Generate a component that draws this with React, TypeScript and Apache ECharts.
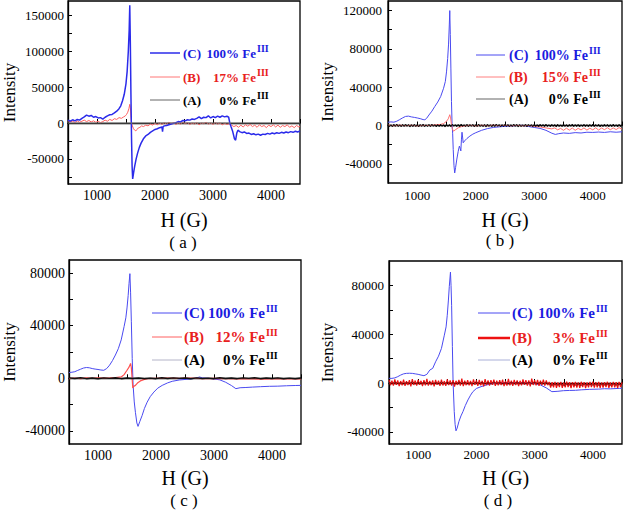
import React, { useEffect, useRef } from 'react';
import * as echarts from 'echarts';

const SERIF = 'Liberation Serif';

// ---------- Panel (a) ----------
const aBlue: number[][] = [
  [500, 4000], [540, 2500], [580, 4500], [620, 3000], [660, 5000], [700, 4000], [740, 6500], [780, 8500],
  [820, 11000], [860, 9500], [900, 10500], [940, 8000], [980, 9000], [1020, 7000], [1060, 7500], [1100, 5500],
  [1140, 8000], [1180, 10000], [1220, 11500], [1260, 12000], [1300, 14000], [1340, 16500], [1380, 20000],
  [1410, 24000], [1440, 31000], [1470, 40000], [1500, 55000], [1520, 72000], [1540, 100000], [1555, 130000],
  [1565, 164000], [1575, 110000], [1585, 40000], [1595, -20000], [1605, -60000], [1615, -78000], [1630, -70000],
  [1650, -60000], [1675, -50000], [1700, -42000], [1730, -34000], [1760, -28000], [1800, -22000], [1840, -18000],
  [1880, -16000], [1920, -13000], [1960, -11000], [2000, -9000], [2040, -8000], [2080, -6500], [2120, -5500],
  [2130, -12000], [2140, -5000], [2160, -4000], [2200, -3500], [2240, -2500], [2280, -1500], [2320, -500],
  [2360, 500], [2400, 2000], [2440, 1500], [2480, 3500], [2520, 3000], [2560, 4500], [2600, 4000], [2640, 5500],
  [2680, 5000], [2720, 6500], [2760, 8500], [2800, 6000], [2840, 8000], [2880, 7500], [2920, 10000], [2960, 7000],
  [3000, 9000], [3040, 7500], [3080, 9500], [3120, 8000], [3160, 10000], [3200, 8500], [3240, 9500], [3270, 8000],
  [3290, 0], [3310, -5000], [3340, -12000], [3370, -22000], [3390, -24000], [3410, -14000], [3430, -10000],
  [3460, -12000], [3500, -13500], [3540, -12500], [3580, -14500], [3620, -14000], [3660, -16000], [3700, -15000],
  [3740, -16500], [3780, -15500], [3820, -17000], [3860, -15500], [3900, -16000], [3940, -14500], [3980, -15500],
  [4020, -14000], [4060, -15000], [4100, -13500], [4140, -14500], [4180, -13000], [4220, -14000], [4260, -12500],
  [4300, -13500], [4340, -12000], [4380, -13000], [4420, -11500], [4460, -12500], [4500, -11000],
];
const aRed: number[][] = [
  [500, 3000], [540, 1500], [580, 2500], [620, 500], [660, 3000], [700, 1000], [740, 2500], [780, 4000],
  [820, 2000], [860, 3500], [900, 1500], [940, 3000], [980, 1000], [1020, 2500], [1060, 500], [1100, 2000],
  [1140, 4000], [1180, 2500], [1220, 5000], [1260, 3500], [1300, 6000], [1340, 5000], [1380, 7500], [1420, 6500],
  [1460, 8500], [1490, 10000], [1510, 12000], [1530, 15000], [1550, 20000], [1565, 26000], [1575, 22000],
  [1585, 8000], [1595, 0], [1610, -4000], [1630, -8000], [1650, -10000], [1670, -11000], [1690, -9000],
  [1710, -7000], [1740, -6000], [1770, -4000], [1800, -5000], [1840, -3000], [1880, -4000], [1920, -1500],
  [1960, -3000], [2000, -500], [2040, -2500], [2080, 0], [2120, -2000], [2160, 500], [2200, -1500], [2240, 1000],
  [2280, -1000], [2320, 500], [2360, -2000], [2400, 0], [2440, -1500], [2480, 1000], [2520, -1000], [2560, 500],
  [2600, -2000], [2640, 0], [2680, -1500], [2720, 500], [2760, -2500], [2800, 0], [2840, -1000], [2880, 1000],
  [2920, -1500], [2960, 0], [3000, -2000], [3040, 500], [3080, -1500], [3120, 0], [3160, -2500], [3200, -500],
  [3240, -2000], [3280, -1000], [3320, -3000], [3360, -5000], [3400, -3500], [3440, -6000], [3480, -3000],
  [3520, -5500], [3560, -2500], [3600, -4500], [3640, -2000], [3680, -5000], [3720, -3000], [3760, -6000],
  [3800, -2500], [3840, -5000], [3880, -3500], [3920, -6500], [3960, -3000], [4000, -5000], [4040, -2500],
  [4080, -5500], [4120, -3000], [4160, -6000], [4200, -3500], [4240, -5000], [4280, -2500], [4320, -6000],
  [4360, -4000], [4400, -6500], [4440, -3500], [4480, -5500], [4500, -4500],
];
const aBlack: number[][] = [[500, 0], [1500, 0], [2500, 0], [3500, 0], [4500, 0]];

// ---------- Panel (b) ----------
const bBlue: number[][] = [
  [500, 3400], [550, 3800], [600, 3500], [650, 4500], [700, 6200], [750, 8000], [800, 9500], [850, 9800],
  [900, 9000], [950, 8500], [1000, 7900], [1050, 7200], [1100, 6200], [1130, 6000], [1160, 7500], [1200, 11000],
  [1250, 15000], [1300, 19900], [1350, 24500], [1400, 30200], [1450, 38900], [1480, 46000], [1500, 56000],
  [1520, 70000], [1535, 85000], [1548, 105000], [1556, 120000], [1565, 95000], [1575, 60000], [1585, 25000],
  [1595, 2000], [1605, -8000], [1615, -25000], [1628, -42000], [1640, -49500], [1655, -44000], [1677, -35000],
  [1700, -27000], [1720, -21500], [1735, -24000], [1745, -26500], [1755, -15000], [1765, -7000], [1775, -12000],
  [1785, -18000], [1810, -16000], [1850, -13500], [1900, -11000], [1950, -9000], [2000, -7500], [2100, -5000],
  [2200, -3200], [2300, -2000], [2400, -1400], [2500, -800], [2600, -500], [2700, 0], [2800, 200], [2900, -1000],
  [3000, -2000], [3100, -3000], [3200, -5000], [3300, -8000], [3360, -9300], [3420, -8500], [3500, -7800],
  [3600, -8200], [3700, -7400], [3800, -7800], [3900, -7000], [4000, -7200], [4100, -6800], [4200, -7200],
  [4300, -6500], [4400, -7000], [4500, -6500],
];
const bRed: number[][] = [
  [500, 500], [600, -300], [700, 400], [800, -200], [900, 300], [1000, -400], [1100, 200], [1200, 0],
  [1300, 600], [1400, 1200], [1450, 2000], [1500, 4400], [1530, 7000], [1556, 11300], [1570, 8000],
  [1585, 1000], [1600, -3500], [1620, -5900], [1650, -4500], [1700, -2400], [1750, -1200], [1800, -500],
  [1900, 300], [2000, -400], [2100, 300], [2200, -300], [2300, 400], [2400, -200], [2500, 300], [2600, -400],
  [2700, 200], [2800, -300], [2900, 0], [3000, -800], [3100, -1500], [3200, -2500], [3300, -3500],
  [3350, -2500], [3400, -4500], [3450, -3000], [3500, -5000], [3550, -2800], [3600, -4800], [3650, -2600],
  [3700, -5000], [3750, -3000], [3800, -4600], [3850, -2500], [3900, -4800], [3950, -2800], [4000, -4500],
  [4050, -2400], [4100, -4700], [4150, -2600], [4200, -4300], [4250, -2300], [4300, -4400], [4350, -2500],
  [4400, -4200], [4450, -2200], [4500, -3800],
];
const bBlackStart = 500;
const bBlackStep = 25;
const bBlackValues = [
  1200, -1300, 900, -1500, 1400, -1000, 1600, -1200, 800, -1400,
  1300, -1100, 1500, -900, 1100, -1600, 1000, -1300, 1400, -1200,
  900, -1500, 1200, -1000, 1600, -1400, 800, -1100, 1300, -1300,
  1500, -900, 1000, -1500, 1200, -1200, 1400, -1000, 900, -1600,
  1300, -1100, 1100, -1400, 1500, -800, 1000, -1300, 1200, -1500,
  1600, -1000, 900, -1200, 1400, -1400, 1100, -900, 1300, -1500,
  1000, -1200, 1500, -1100, 800, -1300, 1200, -1600, 1400, -1000,
  900, -1400, 1300, -1200, 1600, -900, 1100, -1500, 1000, -1300,
  1400, -1100, 1200, -1400, 900, -1200, 1500, -1000, 1300, -1600,
  1100, -1300, 800, -1100, 1400, -1500, 1200, -900, 1000, -1400,
  1300, -1200, 1000, -1500, 1400, -900, 1200, -1300, 1500, -1100,
  900, -1400, 1300, -1000, 1100, -1600, 1400, -1200, 800, -1300,
  1500, -1100, 1000, -1400, 1200, -900, 1600, -1300, 1100, -1200,
  1300, -1500, 900, -1000, 1400, -1200, 1000, -1400, 1200, -1100,
  1500, -1300, 1100, -900, 1300, -1500, 800, -1200, 1400, -1000,
  1200, -1400, 1000, -1300, 1500, -1100, 900, -1500, 1300, -1200,
  1100,
];

// ---------- Panel (c) ----------
const cBlue: number[][] = [
  [500, 4400], [550, 4600], [600, 5000], [650, 6000], [700, 6900], [750, 7800], [800, 8200], [850, 8000],
  [900, 7400], [950, 7000], [1000, 6700], [1050, 6300], [1100, 6100], [1150, 7400], [1200, 10000],
  [1250, 13500], [1300, 17700], [1350, 22500], [1400, 29200], [1450, 39400], [1480, 46000], [1500, 53500],
  [1520, 63000], [1535, 72000], [1550, 79600], [1562, 65000], [1575, 43000], [1590, 15000], [1605, -5000],
  [1625, -18000], [1645, -25900], [1670, -34000], [1690, -36600], [1720, -33000], [1760, -28400],
  [1800, -23000], [1847, -18200], [1900, -14000], [1963, -10500], [2030, -7500], [2107, -5400], [2200, -3500],
  [2280, -2300], [2400, -1300], [2500, -900], [2600, -500], [2700, 200], [2750, 1000], [2800, 300], [2900, 0],
  [3000, -500], [3100, -1200], [3200, -3000], [3300, -5500], [3377, -7900], [3450, -7200], [3550, -7000],
  [3666, -6700], [3800, -6400], [3955, -6100], [4100, -6000], [4250, -5700], [4400, -5500], [4500, -5400],
];
const cRed: number[][] = [
  [500, -300], [600, 200], [700, -200], [800, 300], [900, 0], [1000, 400], [1100, 100], [1200, 300],
  [1300, 600], [1400, 1000], [1450, 2800], [1500, 6100], [1535, 8500], [1562, 11300], [1575, 8000],
  [1588, 0], [1600, -7400], [1620, -6000], [1645, -5400], [1680, -3600], [1730, -2000], [1800, -800],
  [1850, -200], [2000, 0], [2200, 200], [2400, -100], [2600, 100], [2800, -200], [3000, 0], [3200, -300],
  [3400, -500], [3600, -400], [3800, -600], [4000, -400], [4200, -500], [4400, -300], [4500, -400],
];
const cBlackStart = 500;
const cBlackStep = 100;
const cBlackValues = [
  300, -200, 400, -300, 200, -400, 300, -100, 400, -300,
  200, -200, 300, -400, 100, -300, 400, -200, 300, -100,
  200, -400, 300, -200, 100, -300, 400, -200, 200, -300,
  300, -100, 400, -300, 200, -200, 300, -400, 100, -300,
  200,
];

// ---------- Panel (d) ----------
const dBlue: number[][] = [
  [500, 3800], [550, 3800], [600, 4200], [650, 5200], [700, 6500], [750, 7500], [800, 7900], [850, 8000],
  [900, 7900], [950, 7500], [1000, 7100], [1050, 6500], [1100, 6000], [1150, 7100], [1200, 10600],
  [1250, 12000], [1300, 17400], [1350, 22000], [1400, 28300], [1450, 39200], [1480, 46000], [1500, 55500],
  [1520, 68000], [1535, 79000], [1555, 90900], [1565, 80000], [1575, 63700], [1588, 30000], [1600, 1100],
  [1620, -23400], [1635, -34000], [1650, -39200], [1670, -37000], [1700, -31600], [1735, -27000],
  [1770, -23400], [1810, -18500], [1855, -13900], [1900, -10000], [1940, -7100], [2000, -4500], [2080, -3000],
  [2180, -1500], [2280, -300], [2400, 0], [2500, 300], [2600, 0], [2700, 400], [2800, 200], [2929, 0],
  [3000, -300], [3098, -1600], [3200, -4000], [3296, -7100], [3400, -6800], [3494, -6300], [3600, -6100],
  [3700, -6000], [3800, -5600], [3945, -5200], [4100, -5000], [4200, -4700], [4300, -4800], [4453, -4400],
  [4500, -4300],
];
const dRedStart = 500;
const dRedStep = 25;
const dRedValues = [
  2500, -1800, 1900, -2200, 3000, -1500, 2200, -2600, 1600, -1900,
  2800, -2300, 1500, -1700, 2400, -2800, 3200, -1600, 2000, -2100,
  2600, -1400, 1800, -2500, 2300, -1900, 3400, -2200, 1700, -1800,
  2100, -2700, 2500, -1500, 1900, -2300, 2700, -2000, 1600, -2400,
  3000, -1700, 2200, -2100, 2400, -2900, 1800, -1600, 2600, -2200,
  3600, -2500, 2000, -1800, 2300, -2000, 1700, -2600, 2900, -1500,
  2100, -2300, 2500, -1900, 1800, -2700, 3100, -1700, 2200, -2100,
  2400, -1600, 2800, -2400, 1900, -2000, 2300, -1800, 2700, -2500,
  1600, -2200, 3300, -1900, 2000, -2300, 2500, -1700, 2200, -2600,
  1800, -2000, 2900, -1500, 2400, -2200, 2100, -2800, 3500, -1600,
  2300, -1900, 2600, -2400, 2000, -1700, 2800, -2100, 2200, -1800,
  800, -3800, 600, -3500, 1000, -4000, 500, -3300, 900, -3900,
  400, -3600, 1100, -3400, 700, -4200, 600, -3500, 900, -3700,
  500, -3900, 1000, -3300, 700, -4100, 400, -3600, 800, -3400,
  1200, -3800, 600, -3500, 900, -4000, 500, -3700, 700, -3300,
  1000, -3900, 400, -3600, 800, -3500, 600, -4100, 900, -3400,
  500,
];
const dBlackStart = 500;
const dBlackStep = 50;
const dBlackValues = [
  600, -500, 700, -400, 300, -700, 500, -300, 800, -600,
  400, -500, 700, -400, 500, -700, 300, -600, 800, -400,
  600, -500, 400, -700, 700, -300, 500, -600, 300, -500,
  800, -400, 600, -700, 400, -500, 700, -300, 500, -600,
  300, -700, 600, -400, 800, -500, 400, -600, 700, -300,
  500, -500, 600, -400, 300,
  -800, -1900, -700, -1800, -600, -2000, -900, -1700, -500, -1900,
  -800, -2100, -700, -1600, -900, -1800, -600, -2000, -800, -1700,
  -700, -1900, -500, -1800, -900, -1600,
];

// ---------- Axes / labels ----------
const xLimits = [500, 4500];
const yLimits = [[-85000, 170000], [-60000, 130000], [-50000, 90000], [-50000, 100000]];
const yLabelValues = [
  [-50000, 0, 50000, 100000, 150000],
  [-40000, 0, 40000, 80000, 120000],
  [-40000, 0, 40000, 80000],
  [-40000, 0, 40000, 80000],
];
const yTickValues = [
  [-75000, -50000, -25000, 0, 25000, 50000, 75000, 100000, 125000, 150000],
  [-40000, -20000, 0, 20000, 40000, 60000, 80000, 100000, 120000],
  [-40000, -20000, 0, 20000, 40000, 60000, 80000],
  [-40000, -20000, 0, 20000, 40000, 60000, 80000],
];
const legendTags = ['(C)', '(B)', '(A)'];
const legendPercents = [
  ['100% Fe', '17% Fe', '0% Fe'],
  ['100% Fe', '15% Fe', '0% Fe'],
  ['100% Fe', '12% Fe', '0% Fe'],
  ['100% Fe', '3% Fe', '0% Fe'],
];
const superscript = 'III';
const panelTitles = ['( a )', '( b )', '( c )', '( d )'];
const xName = 'H (G)';
const yName = 'Intensity';

const uniform = (start: number, step: number, vals: number[]) => vals.map((v, i) => [start + i * step, v]);

// layout
const grids = [
  { left: 67, top: 1, width: 233, height: 183 },
  { left: 388, top: 1, width: 234, height: 182 },
  { left: 67, top: 260, width: 234, height: 184 },
  { left: 389, top: 261, width: 234, height: 183 },
];
const xFont = [14, 13, 14, 13];
const yFont = [13, 13, 14, 13];
const yLabelMargin = [4, 6, 4, 5];
const xLabelMargin = [4, 6, 4, 4];
const xNameGap = [26, 27, 24, 24];
const yNameGap = [50, 52, 51, 53];
const titlePos = [[183, 242], [500, 240], [184, 500], [498, 500]];

const legendLayout = [
  { lx1: 150, lx2: 180, tx: 183, feRight: 256, ys: [53, 77, 100], fs: 13 },
  { lx1: 476, lx2: 505, tx: 509, feRight: 588, ys: [55, 77, 99], fs: 14 },
  { lx1: 152, lx2: 182, tx: 184, feRight: 265, ys: [313, 337, 360], fs: 15 },
  { lx1: 478, lx2: 510, tx: 512, feRight: 595, ys: [313, 338, 360], fs: 15 },
];
const legendLineColors = [
  ['#2b2bea', '#ff7777', '#666666'],
  ['#4a4af0', '#ff8080', '#999999'],
  ['#4a4af0', '#ff6060', '#b4b4c8'],
  ['#4a4af0', '#ee1111', '#aab0d8'],
];
const legendLineWidths = [
  [1.5, 1, 1],
  [1, 1, 1.5],
  [1, 1, 1],
  [1, 2.5, 1],
];
const textColors = ['#1a1ae0', '#e82020', '#000000'];

function txt(x: number, y: number, text: string, size: number, color: string, align: string, bold: boolean) {
  return {
    type: 'text', x, y,
    style: {
      text, fontFamily: SERIF, fontSize: size, fontWeight: bold ? 'bold' : 'normal',
      fill: color, textAlign: align, textVerticalAlign: 'middle',
    },
  };
}

function buildGraphics() {
  const els: any[] = [];
  legendLayout.forEach((L, p) => {
    for (let i = 0; i < 3; i++) {
      const y = L.ys[i];
      els.push({
        type: 'line',
        shape: { x1: L.lx1, y1: y, x2: L.lx2, y2: y },
        style: { stroke: legendLineColors[p][i], lineWidth: legendLineWidths[p][i] },
      });
      els.push(txt(L.tx, y, legendTags[i], L.fs, textColors[i], 'left', true));
      els.push(txt(L.feRight, y, legendPercents[p][i], L.fs, textColors[i], 'right', true));
      els.push(txt(L.feRight + 1, y - 5, superscript, 10, textColors[i], 'left', true));
    }
  });
  panelTitles.forEach((t, p) => {
    els.push(txt(titlePos[p][0], titlePos[p][1], t, 17, '#000', 'center', false));
  });
  return els;
}

function lineSeries(p: number, data: number[][], color: string, width: number, extra: any = {}) {
  return {
    type: 'line', xAxisIndex: p, yAxisIndex: p, data, showSymbol: false, symbol: 'none',
    lineStyle: { color, width, ...extra }, silent: true, clip: true,
  };
}

export default function App() {
  const ref = useRef<HTMLDivElement>(null);
  useEffect(() => {
    if (!ref.current) return;
    const chart = echarts.init(ref.current, null, { renderer: 'svg' });
    const option: any = {
      animation: false,
      backgroundColor: '#ffffff',
      textStyle: { fontFamily: SERIF },
      grid: grids.map((g) => ({ ...g, show: true, borderColor: '#000', borderWidth: 1.3, backgroundColor: 'transparent', containLabel: false })),
      xAxis: grids.map((_, p) => ({
        gridIndex: p, type: 'value', min: xLimits[0], max: xLimits[1], interval: 500,
        axisLine: { show: true, lineStyle: { color: '#000', width: 1.3 } },
        axisTick: { show: true, inside: true, length: 4, lineStyle: { color: '#000', width: 1 } },
        axisLabel: {
          formatter: (v: number) => (v % 1000 === 0 ? String(v) : ''),
          color: '#000', fontFamily: SERIF, fontSize: xFont[p], margin: xLabelMargin[p],
        },
        splitLine: { show: false },
        name: xName, nameLocation: 'middle', nameGap: xNameGap[p],
        nameTextStyle: { fontFamily: SERIF, fontSize: 20, color: '#000' },
      })),
      yAxis: grids.map((_, p) => ({
        gridIndex: p, type: 'value', min: yLimits[p][0], max: yLimits[p][1],
        axisLine: { show: true, onZero: false, lineStyle: { color: '#000', width: 1.3 } },
        axisTick: { show: true, inside: true, length: 4, customValues: yTickValues[p], lineStyle: { color: '#000', width: 1 } },
        axisLabel: {
          customValues: yLabelValues[p], formatter: (v: number) => String(v),
          color: '#000', fontFamily: SERIF, fontSize: yFont[p], margin: yLabelMargin[p],
        },
        splitLine: { show: false },
        name: yName, nameLocation: 'middle', nameGap: yNameGap[p],
        nameTextStyle: { fontFamily: SERIF, fontSize: 17, color: '#000' },
      })),
      series: [
        lineSeries(0, aRed, '#ff6060', 1),
        lineSeries(0, aBlue, '#2b2bea', 1.5),
        lineSeries(0, aBlack, '#777777', 1),

        lineSeries(1, bBlue, '#4a4af0', 1),
        lineSeries(1, bRed, '#ff7070', 1),
        lineSeries(1, uniform(bBlackStart, bBlackStep, bBlackValues), '#111111', 1),

        lineSeries(2, cBlue, '#4a4af0', 1),
        lineSeries(2, cRed, '#ff5050', 1.2),
        lineSeries(2, uniform(cBlackStart, cBlackStep, cBlackValues), '#111111', 1.4),

        lineSeries(3, dBlue, '#4a4af0', 1),
        lineSeries(3, uniform(dRedStart, dRedStep, dRedValues), '#ee1111', 1.2),
        lineSeries(3, uniform(dBlackStart, dBlackStep, dBlackValues), '#550000', 0.8, { opacity: 0.8 }),
      ],
      graphic: buildGraphics(),
    };
    chart.setOption(option);
    return () => chart.dispose();
  }, []);
  return (
    <div
      ref={ref}
      style={{ position: 'fixed', left: 0, top: 0, width: 625, height: 510, background: '#fff' }}
    />
  );
}
